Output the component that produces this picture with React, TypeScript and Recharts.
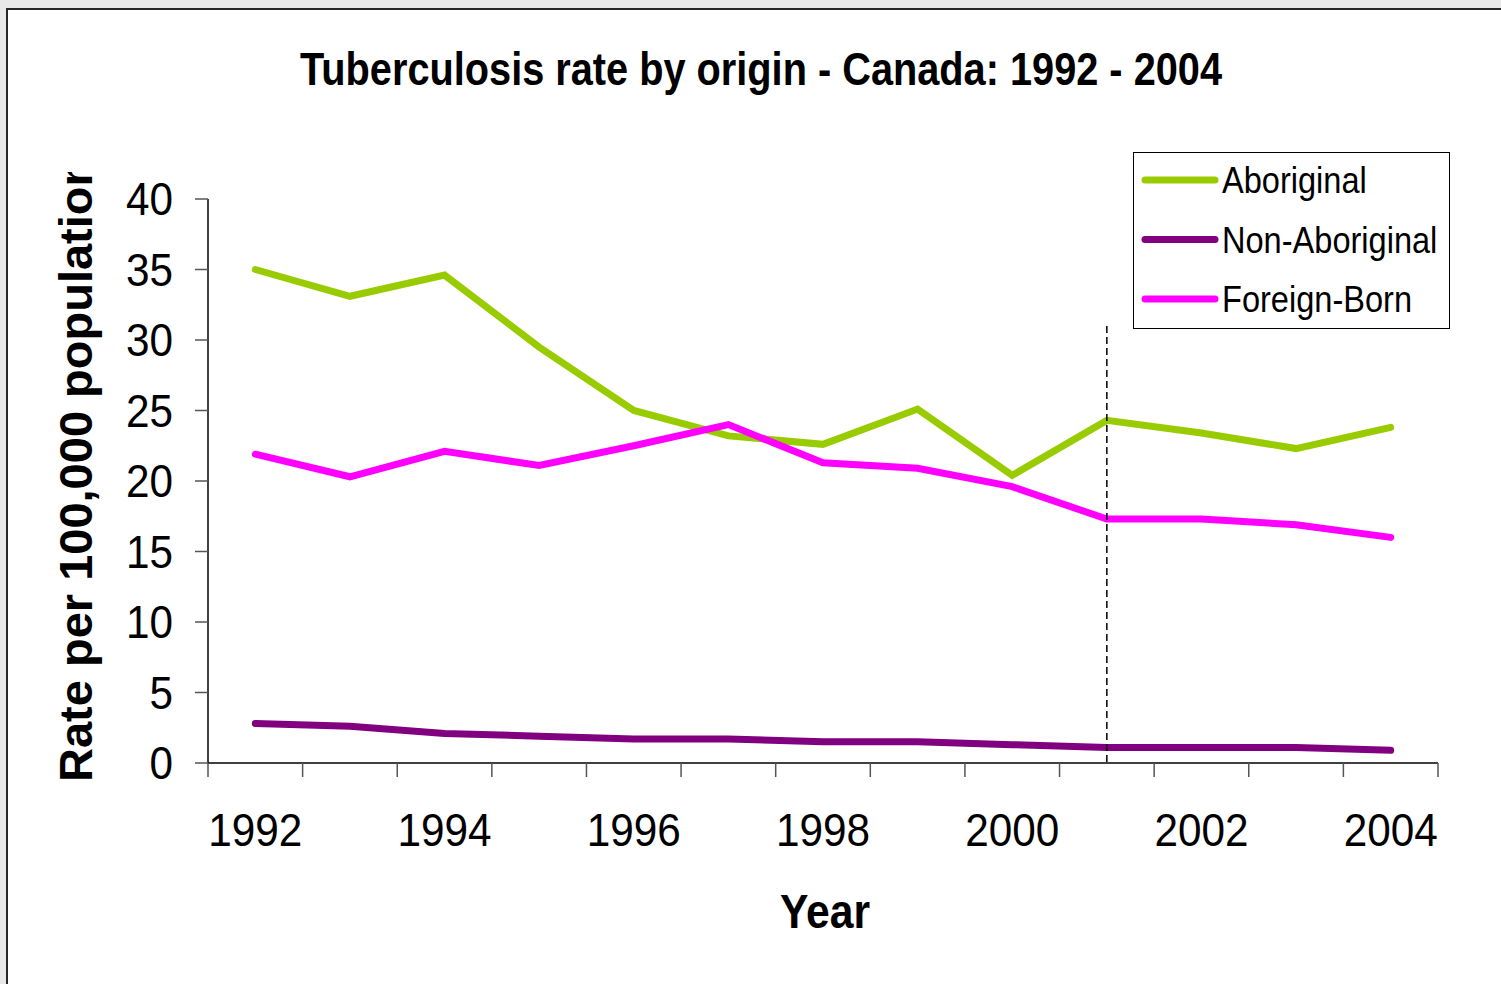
import React from 'react';
import { LineChart, Line, XAxis, YAxis, Legend, ReferenceLine, Customized } from 'recharts';

const years = [1992, 1993, 1994, 1995, 1996, 1997, 1998, 1999, 2000, 2001, 2002, 2003, 2004];
const aboriginal = [35.0, 33.1, 34.6, 29.5, 25.0, 23.2, 22.6, 25.1, 20.4, 24.3, 23.4, 22.3, 23.8];
const nonAboriginal = [2.8, 2.6, 2.1, 1.9, 1.7, 1.7, 1.5, 1.5, 1.3, 1.1, 1.1, 1.1, 0.9];
const foreignBorn = [21.9, 20.3, 22.1, 21.1, 22.5, 24.0, 21.3, 20.9, 19.6, 17.3, 17.3, 16.9, 16.0];
const yTicks = [0, 5, 10, 15, 20, 25, 30, 35, 40];
const xLabelTicks = [1992, 1994, 1996, 1998, 2000, 2002, 2004];
const seriesNames = ['Aboriginal', 'Non-Aboriginal', 'Foreign-Born'];
const cutoffYear = 2001;
const cutoffTop = 31;

const TITLE = 'Tuberculosis rate by origin - Canada: 1992 - 2004';
const Y_LABEL = 'Rate per 100,000 population';
const X_LABEL = 'Year';

const FONT = "'Liberation Sans', Arial, Helvetica, sans-serif";
const COLORS: Record<string, string> = { Aboriginal: '#99CC00', 'Non-Aboriginal': '#800080', 'Foreign-Born': '#FF00FF' };

const data = years.map((year, i) => ({
  year,
  Aboriginal: aboriginal[i],
  'Non-Aboriginal': nonAboriginal[i],
  'Foreign-Born': foreignBorn[i],
}));
const boundaryTicks = [...years.map((y) => y - 0.5), years[years.length - 1] + 0.5];
const xDomain = [years[0] - 0.5, years[years.length - 1] + 0.5];

const EmptyTick = () => <g />;

const YTick = (props: any) => {
  const { x, y, payload } = props;
  return (
    <g transform={`translate(${x},${y})`}>
      <text transform="scale(0.92,1)" textAnchor="end" dy="0.355em" fontSize={46} fontFamily={FONT} fill="#000">
        {payload.value}
      </text>
    </g>
  );
};

const XTick = (props: any) => {
  const { x, y, payload } = props;
  return (
    <g transform={`translate(${x},${y})`}>
      <text transform="scale(0.92,1)" textAnchor="middle" dy="0.71em" fontSize={46} fontFamily={FONT} fill="#000">
        {payload.value}
      </text>
    </g>
  );
};

const Titles = () => (
  <g>
    <text x={761} y={85} textAnchor="middle" fontSize={46} fontWeight="bold" fontFamily={FONT} fill="#000"
      textLength={922} lengthAdjust="spacingAndGlyphs">
      {TITLE}
    </text>
    <text x={825} y={928} textAnchor="middle" fontSize={48} fontWeight="bold" fontFamily={FONT} fill="#000"
      textLength={90} lengthAdjust="spacingAndGlyphs">
      {X_LABEL}
    </text>
    <defs>
      <clipPath id="ylabel-clip">
        <rect x={0} y={172} width={200} height={800} />
      </clipPath>
    </defs>
    <g clipPath="url(#ylabel-clip)">
      <text transform="translate(92,782) rotate(-90)" textAnchor="start" fontSize={47} fontWeight="bold" fontFamily={FONT} fill="#000">
        {Y_LABEL}
      </text>
    </g>
  </g>
);

const LegendBox = (props: any) => {
  const payload = [...(props.payload || [])].sort(
    (a: any, b: any) => seriesNames.indexOf(a.value) - seriesNames.indexOf(b.value)
  );
  return (
    <svg width={318} height={178} style={{ display: 'block', overflow: 'visible' }}>
      <rect x={0.5} y={0.5} width={316} height={176} fill="#fff" stroke="#000" strokeWidth={1} />
      {payload.map((entry: any, i: number) => {
        const cy = 28 + i * 59.5;
        return (
          <g key={entry.value}>
            <line x1={12} x2={82} y1={cy} y2={cy} stroke={entry.color} strokeWidth={7} strokeLinecap="round" />
            <g transform={`translate(89,${cy + 13})`}>
              <text transform="scale(0.88,1)" fontSize={37} fontFamily={FONT} fill="#000">
                {entry.value}
              </text>
            </g>
          </g>
        );
      })}
    </svg>
  );
};

export default function App() {
  return (
    <div style={{ position: 'absolute', left: 0, top: 0, width: 1501, height: 984, overflow: 'hidden', background: '#e8e8e8' }}>
      <div style={{ position: 'absolute', left: 6, top: 8, width: 1600, height: 1100, background: '#fff', borderTop: '2px solid #262626', borderLeft: '2px solid #262626' }} />
      <div style={{ position: 'absolute', left: 0, top: 0 }}>
        <LineChart width={1501} height={984} data={data} margin={{ top: 199, right: 63, bottom: 100, left: 108 }}>
          <XAxis xAxisId="axisA" dataKey="year" type="number" domain={xDomain} ticks={boundaryTicks}
            tick={<EmptyTick />} tickSize={14} tickMargin={0} height={1} allowDataOverflow interval={0}
            axisLine={{ stroke: '#000', strokeWidth: 1.5 }} tickLine={{ stroke: '#555', strokeWidth: 1.5 }} />
          <XAxis xAxisId="axisB" dataKey="year" type="number" domain={xDomain} ticks={xLabelTicks}
            tick={<XTick />} tickLine={false} axisLine={false} tickSize={0} tickMargin={49} height={120} allowDataOverflow interval={0} />
          <YAxis domain={[0, 40]} ticks={yTicks} tick={<YTick />} tickSize={13} tickMargin={22} width={100} interval={0}
            axisLine={{ stroke: '#000', strokeWidth: 1.5 }} tickLine={{ stroke: '#555', strokeWidth: 1.5 }} />
          <Legend layout="vertical" align="center" verticalAlign="middle" content={<LegendBox />}
            wrapperStyle={{ position: 'absolute', left: 1133, top: 152, width: 318, height: 178 }} />
          {seriesNames.map((key) => (
            <Line key={key} xAxisId="axisB" type="linear" dataKey={key} name={key} stroke={COLORS[key]}
              strokeWidth={7} strokeLinecap="round" dot={false} activeDot={false} isAnimationActive={false} />
          ))}
          <ReferenceLine xAxisId="axisB" segment={[{ x: cutoffYear, y: cutoffTop }, { x: cutoffYear, y: 0 }]}
            stroke="#000" strokeWidth={1.5} strokeDasharray="7 4" />
          <Customized component={Titles} />
        </LineChart>
      </div>
    </div>
  );
}
